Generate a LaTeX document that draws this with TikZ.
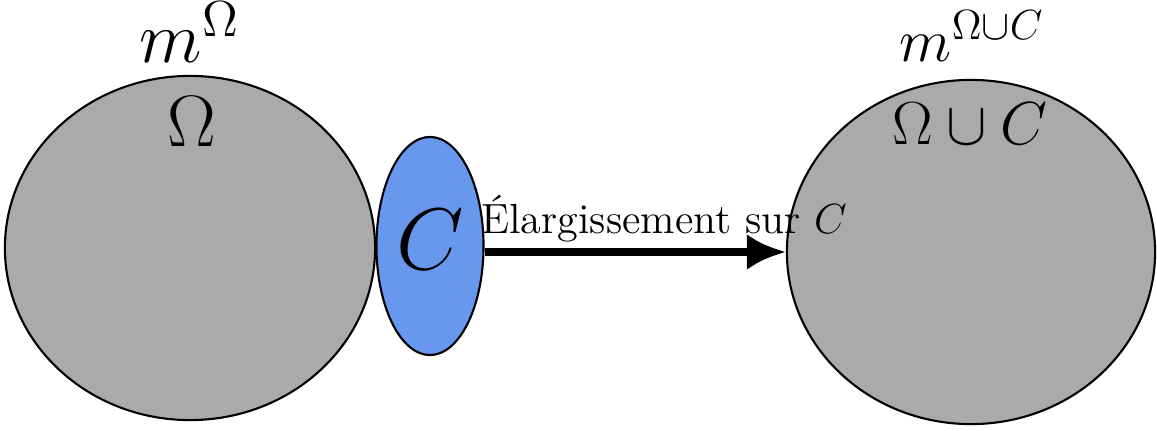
\documentclass[tikz,border=0pt]{standalone}
\usepackage{amsmath,amssymb}
\usepackage{tikz}
\usetikzlibrary{shapes.geometric,positioning,calc,arrows.meta}

\definecolor{setgray}{RGB}{170,170,170}
\definecolor{setblue}{RGB}{104,152,238}

\begin{document}
\begin{tikzpicture}[x=0.01cm,y=0.01cm,
    setshape/.style={ellipse, draw=black, line width=0.6pt, inner sep=0pt},
    setlabel/.style={anchor=base, font=\fontsize{18.5}{22}\selectfont}]
    \useasboundingbox (0,0) rectangle (1157,430);

    % Define the sets Omega, C and Omega u C
    \node[setshape, fill=setgray, minimum width=3.70cm, minimum height=3.44cm] (omega) at (190,182) {};
    \node[setshape, fill=setgray, minimum width=3.68cm, minimum height=3.44cm] (union) at (971,178) {};
    \node[setshape, fill=setblue, minimum width=1.07cm, minimum height=2.18cm] (cset) at (430,184) {};

    % Add labels
    \node[anchor=base, font=\huge] (mo) at (190,367) {$m^{\Omega}$};
    \node[anchor=base, font=\huge] (om) at (192,283) {$\Omega$};
    \node[anchor=base, font=\fontsize{18.7}{22}\selectfont] (mu) at (972,368) {$m^{\Omega\cup C}$};
    \node[setlabel] (ou) at (970,285) {$\Omega\cup C$};
    \node[anchor=base, font=\Huge] (cl) at (430,160) {$C$};

    % Enlargement arrow
    \draw[line width=2.5pt, -{Latex[length=0.39cm,width=0.36cm]}] (cset.east |- union.west) -- (union.west);
    \node[anchor=base, font=\fontsize{12}{14}\selectfont] (el) at (664,196) {Élargissement sur $C$};
\end{tikzpicture}
\end{document}
